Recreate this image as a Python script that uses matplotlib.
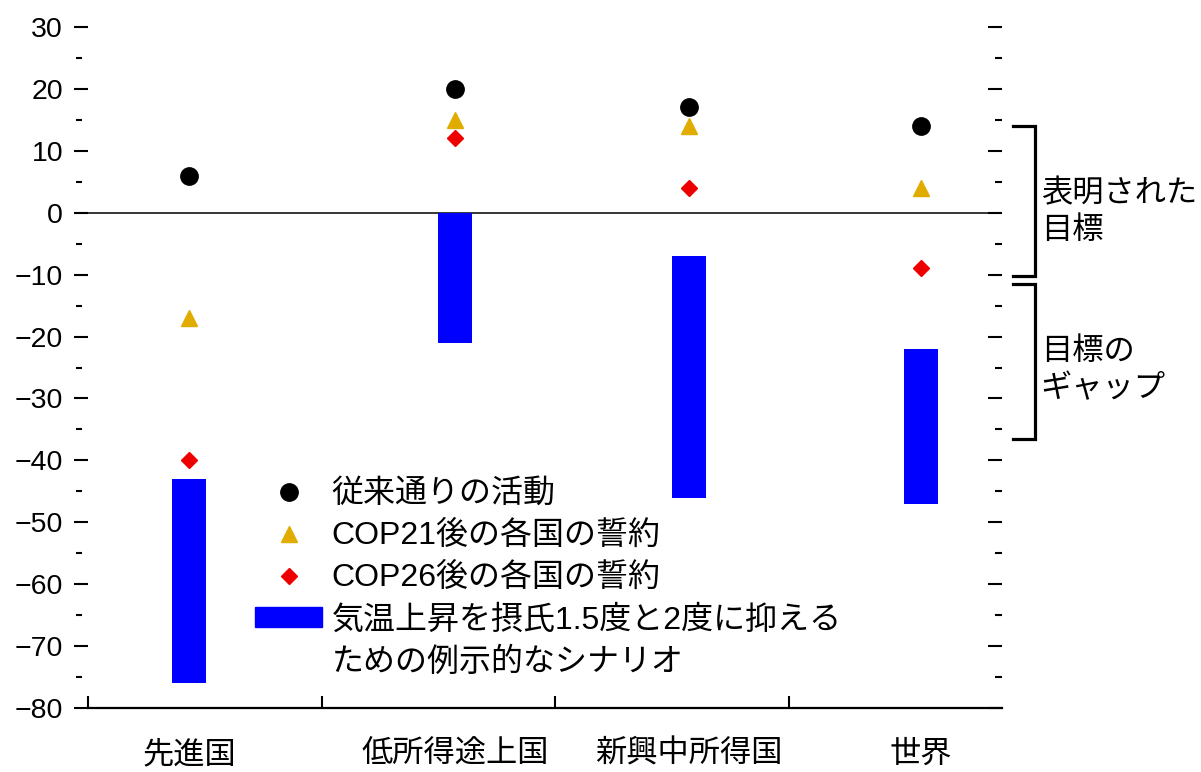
import numpy as np
import matplotlib
matplotlib.use('Agg')
import matplotlib.pyplot as plt
from matplotlib.lines import Line2D
from matplotlib.patches import Patch
from matplotlib import transforms

plt.rcParams['font.family'] = ['Liberation Sans', 'Noto Sans CJK JP']
plt.rcParams['axes.unicode_minus'] = True

# data
categories = ['先進国', '低所得途上国', '新興中所得国', '世界']
bau = [6, 20, 17, 14]
cop21 = [-17, 15, 14, 4]
cop26 = [-40, 12, 4, -9]
scen_top = [-43, 0, -7, -22]
scen_bottom = [-76, -21, -46, -47]
y_ticks = list(range(-80, 31, 10))
y_minor = list(range(-75, 30, 10))

labels = ['従来通りの活動', 'COP21後の各国の誓約', 'COP26後の各国の誓約',
          '気温上昇を摂氏1.5度と2度に抑える', 'ための例示的なシナリオ']
brackets = [(14, -10.2, '表明された\n目標', 0), (-11.5, -36.5, '目標の\nギャップ', -25.5)]

# layout
xpos = np.array([0.433, 1.572, 2.574, 3.567])
FS = 23

fig = plt.figure(figsize=(12.01, 7.72), dpi=100)
ax = fig.add_axes([88 / 1201, 64 / 772, 914 / 1201, 681 / 772])

heights = np.array(scen_top) - np.array(scen_bottom)
ax.bar(xpos, heights, bottom=scen_bottom, width=0.145, color='#0000ff', zorder=2)
ax.plot(xpos, bau, 'o', color='black', ms=12.5, ls='none', zorder=3)
ax.plot(xpos, cop21, '^', color='#e0ac00', ms=12, ls='none', zorder=3)
ax.plot(xpos, cop26, 'D', color='#ee0000', ms=8.5, ls='none', zorder=3)

ax.axhline(0, xmin=0, xmax=0.985, color='black', lw=1.1, zorder=1)

ax.set_xlim(0, 914 / 233.5)
ax.set_ylim(-80, 30)

for s in ['top', 'left', 'right']:
    ax.spines[s].set_visible(False)
ax.spines['bottom'].set_linewidth(1.6)

# y ticks: left major out, right major + minor in
ax.set_yticks(y_ticks)
ax.set_yticklabels([f'{v}'.replace('-', '\u2212') for v in y_ticks], fontsize=20.5)
ax.set_yticks(y_minor, minor=True)
ax.tick_params(axis='y', which='major', direction='out', length=10, width=1.5,
               pad=8, left=True, right=True)
ax.tick_params(axis='y', which='minor', left=False, right=True, direction='in',
               length=5, width=1.5)
# right major ticks pointing inward
for t in ax.yaxis.get_major_ticks():
    t.tick2line.set_marker(matplotlib.lines.TICKLEFT)

# left minor ticks, detached from axis
off = transforms.ScaledTranslation(-9.5 / 100, 0, fig.dpi_scale_trans)
tr = transforms.blended_transform_factory(ax.transAxes, ax.transData) + off
ax.plot(np.zeros(len(y_minor)), y_minor, ls='none', marker='_', ms=4, mew=1.5,
        color='black', transform=tr, clip_on=False)

# x: group separators, labels under categories
ax.set_xticks([0, 1, 2, 3])
ax.set_xticklabels([])
ax.tick_params(axis='x', which='major', direction='in', length=8.5, width=1.5)
ax.set_xticks(xpos, minor=True)
ax.set_xticklabels(categories, minor=True, fontsize=22.5)
ax.tick_params(axis='x', which='minor', length=0, pad=23)

# brackets on the right
for top, bot, txt, ty in brackets:
    ax.plot([3.96, 4.056, 4.056, 3.96], [top, top, bot, bot], color='black',
            lw=2.3, clip_on=False, solid_joinstyle='miter')
    ax.text(4.08, ty, txt, fontsize=22.5, va='center', ha='left', linespacing=1.3)

# legend
handles = [
    Line2D([], [], marker='o', color='black', ls='none', ms=12.5),
    Line2D([], [], marker='^', color='#e0ac00', ls='none', ms=12),
    Line2D([], [], marker='D', color='#ee0000', ls='none', ms=8.5),
    Patch(color='#0000ff'),
    Patch(color='none'),
]
leg = ax.legend(handles, labels, loc='upper left', frameon=False, fontsize=FS,
                bbox_to_anchor=(255 / 1201, 1 - 479 / 772), bbox_transform=fig.transFigure,
                borderpad=0, borderaxespad=0, handlelength=2.1, handleheight=0.55,
                handletextpad=0.3, labelspacing=0.37)

fig.savefig('out.png', dpi=100)
